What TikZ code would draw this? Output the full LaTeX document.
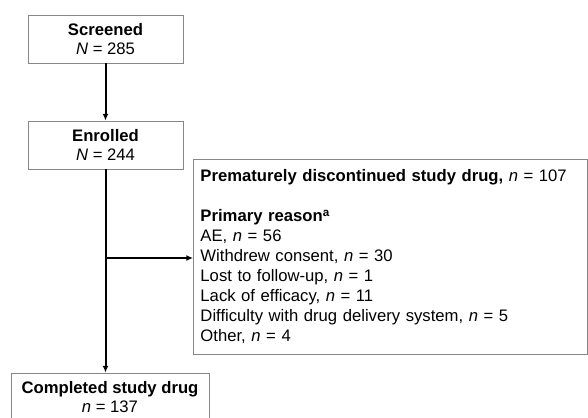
\documentclass[tikz,border=0pt]{standalone}
\usepackage{fontspec}
\setmainfont{Liberation Sans}
\usetikzlibrary{positioning}
\usetikzlibrary{arrows.meta}
\definecolor{boxgray}{RGB}{135,135,135}
\tikzset{
  stagebox/.style={draw=boxgray,line width=0.7pt,minimum width=116.25pt,minimum height=36pt,inner sep=2pt,align=center,font=\fontsize{12.5}{14.25}\selectfont},
  reasonbox/.style={draw=boxgray,line width=0.7pt,anchor=north west,minimum width=295.5pt,minimum height=146.25pt,text width=285pt,inner xsep=5pt,align=left,font=\fontsize{12.5}{15}\selectfont},
  flow/.style={line width=1.5pt,-{Latex[length=5pt,width=4.5pt]}}
}
\begin{document}
\begin{tikzpicture}[x=0.75pt,y=-0.75pt]
  \useasboundingbox (0,0) rectangle (588,417);
  \node [stagebox] (screened)  at (105.5,39)  {\textbf{Screened}\\\textit{N} = 285};
  \node [stagebox] (enrolled)  at (105.5,145) {\textbf{Enrolled}\\\textit{N} = 244};
  \node [stagebox,minimum width=148.5pt] (completed) at (110,397) {\textbf{Completed study drug}\\\textit{n} = 137};
  \node [reasonbox] (discont) at (193,159) {\textbf{Prematurely discontinued study drug,} \textit{n} = 107\\[15pt]
    \textbf{Primary reason\textsuperscript{a}}\\
    AE, \textit{n} = 56\\
    Withdrew consent, \textit{n} = 30\\
    Lost to follow-up, \textit{n} = 1\\
    Lack of efficacy, \textit{n} = 11\\
    Difficulty with drug delivery system, \textit{n} = 5\\
    Other, \textit{n} = 4};
  \coordinate (branch) at (105,258);

  \draw [flow] (screened) -- (enrolled);
  \draw [flow] (enrolled.south) -- (enrolled.south |- completed.north);
  \draw [flow] (branch) -- (branch -| discont.west);
\end{tikzpicture}
\end{document}
